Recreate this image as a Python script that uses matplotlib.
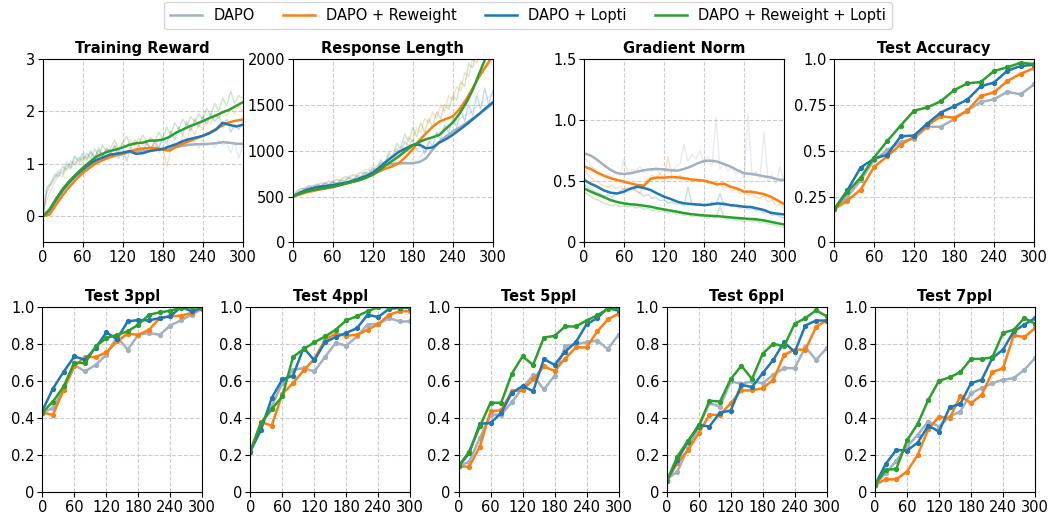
import numpy as np
import matplotlib
matplotlib.use("Agg")
import matplotlib.pyplot as plt

W, H = 1050, 521

METHODS = ["DAPO", "DAPO + Reweight", "DAPO + Lopti", "DAPO + Reweight + Lopti"]
COLORS = ["#a3b0c2", "#ff7f0e", "#1f77b4", "#2ca02c"]

STEP_RAW = list(range(0, 301, 6))      # raw logging steps (faint traces)
STEP_SMOOTH = list(range(0, 301, 10))  # smoothed curves
STEP_EVAL = list(range(0, 301, 20))    # evaluation checkpoints
XTICKS = [0, 60, 120, 180, 240, 300]

# ---------------------------------------------------------------------------
# Training reward
# ---------------------------------------------------------------------------
reward_raw_dapo = [0.0, 0.5, 0.65, 0.75, 0.9, 0.85, 1.05, 0.95, 1.12, 1.02, 1.15, 1.08, 1.22, 1.1, 1.25, 1.15,
                   1.28, 1.18, 1.3, 1.2, 1.3, 1.22, 1.32, 1.25, 1.35, 1.25, 1.38, 1.28, 1.4, 1.3, 1.42, 1.32,
                   1.45, 1.35, 1.42, 1.32, 1.45, 1.35, 1.42, 1.3, 1.45, 1.35, 1.4, 1.3, 1.45, 1.35, 1.4, 1.2,
                   1.42, 1.1, 1.35]
reward_raw_rw = [0.0, 0.3, 0.5, 0.65, 0.8, 0.75, 0.95, 0.9, 1.05, 0.98, 1.12, 1.05, 1.2, 1.1, 1.25, 1.15,
                 1.3, 1.2, 1.35, 1.22, 1.4, 1.3, 1.45, 1.32, 1.5, 1.35, 1.42, 1.3, 1.4, 1.2, 1.35, 0.95,
                 1.25, 1.4, 1.3, 1.55, 1.45, 1.7, 1.55, 1.75, 1.65, 1.85, 1.75, 1.95, 1.85, 2.0, 1.9, 2.05,
                 1.95, 2.1, 2.0]
reward_raw_lopti = [0.0, 0.45, 0.6, 0.72, 0.85, 0.8, 1.0, 0.92, 1.15, 1.05, 1.2, 1.1, 1.25, 1.12, 1.3, 1.15,
                    1.28, 1.2, 1.35, 1.1, 1.25, 1.05, 1.3, 1.18, 1.35, 1.22, 1.4, 1.25, 1.45, 1.3, 1.5, 1.38,
                    1.62, 1.45, 1.7, 1.55, 1.8, 1.62, 1.85, 1.7, 1.9, 1.75, 1.95, 1.8, 1.92, 1.7, 1.85, 1.6,
                    1.75, 1.65, 1.8]
reward_raw_both = [-0.05, 0.55, 0.62, 0.8, 0.75, 0.95, 0.88, 1.05, 0.98, 1.12, 1.05, 1.2, 1.1, 1.28, 1.15, 1.35,
                   1.22, 1.3, 1.45, 1.25, 1.4, 1.52, 1.32, 1.45, 1.38, 1.55, 1.4, 1.5, 1.42, 1.6, 1.48, 1.7,
                   1.55, 1.78, 1.65, 1.85, 1.72, 1.9, 1.8, 1.95, 1.85, 2.05, 1.92, 2.15, 2.0, 2.25, 2.1, 2.38,
                   2.15, 2.3, 2.25]
reward_dapo = [0.0, 0.1, 0.29, 0.48, 0.64, 0.77, 0.87, 0.96, 1.04, 1.1, 1.14, 1.17, 1.19, 1.22, 1.24, 1.25,
               1.25, 1.27, 1.28, 1.3, 1.32, 1.34, 1.36, 1.37, 1.37, 1.38, 1.39, 1.41, 1.4, 1.38, 1.38]
reward_rw = [0.0, 0.03, 0.22, 0.4, 0.56, 0.7, 0.82, 0.92, 1.01, 1.07, 1.12, 1.16, 1.19, 1.23, 1.27, 1.29,
             1.3, 1.3, 1.27, 1.25, 1.32, 1.38, 1.43, 1.48, 1.53, 1.59, 1.66, 1.73, 1.79, 1.82, 1.84]
reward_lopti = [0.0, 0.12, 0.32, 0.5, 0.65, 0.78, 0.89, 0.99, 1.07, 1.12, 1.17, 1.19, 1.21, 1.24, 1.19, 1.2,
                1.24, 1.26, 1.28, 1.33, 1.37, 1.43, 1.47, 1.5, 1.53, 1.58, 1.65, 1.78, 1.74, 1.71, 1.74]
reward_both = [0.0, 0.12, 0.33, 0.52, 0.67, 0.8, 0.92, 1.03, 1.13, 1.19, 1.24, 1.27, 1.31, 1.36, 1.39, 1.4,
               1.44, 1.44, 1.46, 1.51, 1.59, 1.65, 1.71, 1.76, 1.81, 1.87, 1.92, 1.98, 2.03, 2.1, 2.17]

# ---------------------------------------------------------------------------
# Response length
# ---------------------------------------------------------------------------
length_raw_dapo = [500, 550, 580, 590, 610, 620, 630, 640, 650, 660, 670, 680, 690, 700, 720, 730,
                   750, 760, 790, 800, 840, 830, 870, 860, 880, 850, 870, 840, 880, 860, 900, 880,
                   940, 1000, 1080, 1150, 1180, 1220, 1250, 1280, 1300, 1320, 1350, 1380, 1400, 1430, 1480, 1500,
                   1550, 1580, 1620]
length_raw_rw = [500, 540, 570, 600, 590, 620, 610, 650, 630, 670, 650, 690, 670, 720, 700, 740,
                 720, 760, 740, 790, 770, 830, 800, 880, 850, 950, 920, 1050, 1000, 1150, 1100, 1250,
                 1200, 1350, 1300, 1420, 1350, 1500, 1420, 1600, 1550, 1700, 1650, 1850, 1800, 2000, 1950, 2100,
                 2050, 2200, 2150]
length_raw_lopti = [510, 560, 590, 580, 620, 600, 640, 615, 650, 630, 660, 640, 670, 660, 700, 680,
                    720, 700, 760, 730, 800, 780, 870, 820, 950, 900, 1020, 960, 1100, 1050, 1120, 1000,
                    1080, 960, 1100, 1050, 1200, 1120, 1280, 1200, 1350, 1250, 1450, 1320, 1500, 1380, 1600, 1450,
                    1680, 1500, 1650]
length_raw_both = [500, 530, 560, 580, 600, 590, 620, 610, 640, 630, 660, 650, 680, 670, 710, 690,
                   730, 720, 770, 750, 820, 790, 900, 850, 980, 930, 1080, 1020, 1180, 1100, 1250, 1150,
                   1300, 1200, 1350, 1250, 1420, 1350, 1500, 1450, 1600, 1550, 1750, 1700, 1950, 1900, 2100, 2050,
                   2200, 2150, 2250]
length_dapo = [500, 535, 562, 582, 598, 612, 625, 638, 651, 670, 691, 720, 753, 800, 844, 855,
               862, 862, 862, 875, 916, 1010, 1098, 1155, 1207, 1250, 1298, 1350, 1400, 1455, 1509]
length_rw = [500, 522, 544, 560, 576, 590, 605, 622, 642, 660, 678, 708, 745, 775, 807, 830,
             869, 935, 1015, 1110, 1189, 1260, 1316, 1345, 1371, 1450, 1553, 1680, 1807, 1920, 2030]
length_lopti = [500, 540, 570, 592, 607, 615, 625, 638, 651, 672, 698, 725, 760, 815, 880, 935,
                989, 1025, 1062, 1065, 1025, 1035, 1087, 1125, 1171, 1225, 1280, 1340, 1400, 1465, 1524]
length_both = [500, 528, 555, 570, 584, 594, 605, 622, 642, 660, 678, 705, 735, 785, 844, 890,
               942, 1000, 1055, 1095, 1124, 1145, 1171, 1240, 1305, 1400, 1516, 1660, 1844, 2018, 2200]

# ---------------------------------------------------------------------------
# Gradient norm
# ---------------------------------------------------------------------------
gnorm_raw_dapo = [0.7, 0.66, 0.62, 0.58, 0.56, 0.54, 0.55, 0.53, 0.58, 0.55, 0.68, 0.56, 0.6, 0.58, 0.62, 0.57,
                  0.6, 0.58, 0.62, 0.56, 0.6, 0.57, 0.58, 0.62, 0.64, 0.8, 0.66, 0.72, 0.68, 0.75, 0.65, 0.7,
                  0.62, 1.02, 0.6, 0.65, 0.58, 0.62, 0.55, 0.6, 0.52, 1.05, 0.55, 0.58, 0.52, 0.9, 0.5, 0.55,
                  0.48, 0.62, 0.5]
gnorm_raw_rw = [0.6, 0.55, 0.52, 0.5, 0.48, 0.46, 0.45, 0.47, 0.44, 0.46, 0.43, 0.45, 0.42, 0.44, 0.4, 0.48,
                0.52, 0.55, 0.53, 0.56, 0.52, 0.7, 0.54, 0.52, 0.55, 0.51, 0.53, 0.5, 0.52, 0.49, 0.51, 0.48,
                0.5, 0.46, 0.48, 0.44, 0.46, 0.42, 0.44, 0.4, 0.42, 0.38, 0.4, 0.37, 0.36, 0.38, 0.33, 0.35,
                0.3, 0.32, 0.28]
gnorm_raw_lopti = [0.48, 0.45, 0.43, 0.41, 0.4, 0.38, 0.39, 0.37, 0.4, 0.42, 0.44, 0.43, 0.45, 0.42, 0.4, 0.38,
                   0.39, 0.36, 0.37, 0.34, 0.35, 0.32, 0.33, 0.31, 0.32, 0.3, 0.45, 0.31, 0.3, 0.32, 0.3, 0.31,
                   0.33, 0.31, 0.4, 0.3, 0.31, 0.29, 0.3, 0.28, 0.29, 0.27, 0.28, 0.26, 0.27, 0.24, 0.25, 0.22,
                   0.23, 0.21, 0.2]
gnorm_raw_both = [0.41, 0.39, 0.37, 0.35, 0.34, 0.32, 0.31, 0.3, 0.31, 0.29, 0.3, 0.29, 0.3, 0.28, 0.29, 0.27,
                  0.28, 0.26, 0.27, 0.25, 0.26, 0.24, 0.25, 0.23, 0.24, 0.22, 0.23, 0.21, 0.22, 0.21, 0.22, 0.2,
                  0.21, 0.2, 0.3, 0.2, 0.19, 0.2, 0.18, 0.19, 0.17, 0.18, 0.17, 0.18, 0.16, 0.17, 0.15, 0.15,
                  0.14, 0.13, 0.12]
gnorm_dapo = [0.728, 0.71, 0.674, 0.63, 0.592, 0.565, 0.559, 0.565, 0.578, 0.59, 0.597, 0.6, 0.597, 0.59, 0.586,
              0.6, 0.619, 0.645, 0.665, 0.668, 0.66, 0.64, 0.619, 0.59, 0.565, 0.56, 0.551, 0.54, 0.532, 0.515,
              0.51]
gnorm_rw = [0.62, 0.6, 0.57, 0.545, 0.524, 0.51, 0.496, 0.482, 0.469, 0.464, 0.52, 0.53, 0.529, 0.535, 0.532,
            0.525, 0.515, 0.51, 0.505, 0.49, 0.475, 0.48, 0.455, 0.44, 0.415, 0.415, 0.406, 0.395, 0.374, 0.345,
            0.314]
gnorm_lopti = [0.51, 0.48, 0.455, 0.425, 0.406, 0.4, 0.415, 0.44, 0.455, 0.445, 0.428, 0.4, 0.374, 0.355, 0.333,
               0.32, 0.314, 0.31, 0.305, 0.31, 0.319, 0.315, 0.305, 0.3, 0.292, 0.29, 0.278, 0.265, 0.243, 0.235,
               0.229]
gnorm_both = [0.442, 0.415, 0.393, 0.37, 0.346, 0.33, 0.319, 0.312, 0.308, 0.3, 0.292, 0.28, 0.27, 0.26, 0.251,
              0.24, 0.232, 0.226, 0.221, 0.218, 0.215, 0.21, 0.205, 0.2, 0.196, 0.192, 0.188, 0.18, 0.169, 0.158,
              0.147]

# ---------------------------------------------------------------------------
# Evaluation accuracies (every 20 steps)
# ---------------------------------------------------------------------------
acc_dapo = [0.18, 0.248, 0.339, 0.447, 0.502, 0.547, 0.565, 0.629, 0.63, 0.67, 0.719, 0.764, 0.779, 0.82, 0.806, 0.86]
acc_rw = [0.18, 0.228, 0.288, 0.411, 0.469, 0.533, 0.574, 0.636, 0.688, 0.678, 0.717, 0.797, 0.817, 0.879, 0.918, 0.949]
acc_lopti = [0.18, 0.284, 0.408, 0.456, 0.478, 0.578, 0.582, 0.647, 0.707, 0.741, 0.777, 0.85, 0.87, 0.935, 0.96, 0.967]
acc_both = [0.18, 0.275, 0.353, 0.462, 0.553, 0.636, 0.717, 0.735, 0.768, 0.828, 0.866, 0.873, 0.933, 0.953, 0.978, 0.971]

ppl3_dapo = [0.43, 0.455, 0.557, 0.688, 0.652, 0.688, 0.742, 0.84, 0.77, 0.85, 0.86, 0.85, 0.9, 0.928, 0.959, 0.99]
ppl3_rw = [0.43, 0.418, 0.553, 0.68, 0.73, 0.73, 0.755, 0.815, 0.856, 0.85, 0.877, 0.94, 0.95, 0.953, 0.968, 0.995]
ppl3_lopti = [0.44, 0.56, 0.65, 0.733, 0.715, 0.78, 0.863, 0.827, 0.922, 0.93, 0.928, 0.94, 0.95, 1.0, 0.977, 0.996]
ppl3_both = [0.43, 0.49, 0.571, 0.7, 0.697, 0.787, 0.832, 0.85, 0.868, 0.905, 0.958, 0.971, 0.98, 0.995, 1.0, 1.0]

ppl4_dapo = [0.22, 0.37, 0.463, 0.589, 0.661, 0.67, 0.652, 0.73, 0.806, 0.791, 0.841, 0.905, 0.91, 0.94, 0.922, 0.922]
ppl4_rw = [0.22, 0.38, 0.359, 0.531, 0.589, 0.658, 0.72, 0.823, 0.856, 0.845, 0.85, 0.877, 0.908, 0.958, 0.977, 0.977]
ppl4_lopti = [0.22, 0.337, 0.508, 0.61, 0.629, 0.78, 0.712, 0.809, 0.838, 0.86, 0.886, 0.958, 0.946, 0.99, 0.995, 0.995]
ppl4_both = [0.22, 0.373, 0.449, 0.517, 0.73, 0.773, 0.809, 0.841, 0.877, 0.928, 0.95, 0.977, 1.0, 1.0, 1.0, 1.0]

ppl5_dapo = [0.14, 0.165, 0.292, 0.419, 0.419, 0.486, 0.564, 0.632, 0.555, 0.628, 0.791, 0.799, 0.81, 0.819, 0.773, 0.85]
ppl5_rw = [0.14, 0.138, 0.247, 0.437, 0.443, 0.546, 0.55, 0.61, 0.679, 0.655, 0.722, 0.782, 0.782, 0.868, 0.933, 0.964]
ppl5_lopti = [0.14, 0.21, 0.37, 0.374, 0.428, 0.537, 0.573, 0.546, 0.719, 0.688, 0.759, 0.81, 0.906, 0.94, 0.995, 0.98]
ppl5_both = [0.14, 0.22, 0.356, 0.483, 0.483, 0.64, 0.733, 0.688, 0.835, 0.844, 0.895, 0.895, 0.927, 0.955, 0.99, 0.99]

ppl6_dapo = [0.07, 0.112, 0.238, 0.355, 0.481, 0.463, 0.598, 0.586, 0.598, 0.589, 0.634, 0.67, 0.67, 0.784, 0.715, 0.778]
ppl6_rw = [0.06, 0.157, 0.229, 0.319, 0.418, 0.418, 0.481, 0.55, 0.55, 0.562, 0.607, 0.742, 0.77, 0.77, 0.892, 0.93]
ppl6_lopti = [0.06, 0.175, 0.274, 0.364, 0.355, 0.43, 0.441, 0.58, 0.568, 0.643, 0.715, 0.81, 0.757, 0.9, 0.927, 0.927]
ppl6_both = [0.06, 0.193, 0.279, 0.355, 0.494, 0.49, 0.611, 0.683, 0.611, 0.748, 0.802, 0.787, 0.91, 0.94, 0.982, 0.95]

ppl7_dapo = [0.04, 0.103, 0.171, 0.247, 0.31, 0.382, 0.355, 0.409, 0.436, 0.535, 0.562, 0.589, 0.607, 0.616, 0.661, 0.724]
ppl7_rw = [0.04, 0.07, 0.07, 0.112, 0.202, 0.341, 0.409, 0.4, 0.52, 0.481, 0.526, 0.649, 0.67, 0.847, 0.838, 0.886]
ppl7_lopti = [0.04, 0.153, 0.229, 0.225, 0.268, 0.359, 0.328, 0.459, 0.477, 0.589, 0.607, 0.724, 0.77, 0.868, 0.905, 0.94]
ppl7_both = [0.04, 0.121, 0.126, 0.28, 0.369, 0.499, 0.602, 0.62, 0.649, 0.72, 0.72, 0.728, 0.86, 0.877, 0.94, 0.91]

# panel titles / y-axis setups
TOP_TITLES = ["Training Reward", "Response Length", "Gradient Norm", "Test Accuracy"]
TOP_YLIMS = [(-0.5, 3), (0, 2000), (0, 1.5), (0, 1.0)]
TOP_YTICKS = [[0, 1, 2, 3], [0, 500, 1000, 1500, 2000], [0, 0.5, 1.0, 1.5], [0, 0.25, 0.5, 0.75, 1.0]]
TOP_YLABELS = [["0", "1", "2", "3"], ["0", "500", "1000", "1500", "2000"],
               ["0", "0.5", "1.0", "1.5"], ["0", "0.25", "0.5", "0.75", "1.0"]]
BOT_TITLES = ["Test 3ppl", "Test 4ppl", "Test 5ppl", "Test 6ppl", "Test 7ppl"]
BOT_YTICKS = [0, 0.2, 0.4, 0.6, 0.8, 1.0]
BOT_YLABELS = ["0", "0.2", "0.4", "0.6", "0.8", "1.0"]

plt.rcParams["font.family"] = "DejaVu Sans"


def px_axes(fig, left, top, width, height):
    return fig.add_axes([left / W, 1 - (top + height) / H, width / W, height / H])


def style(ax, title, ylim, yticks, ylabels):
    ax.set_xlim(0, 300)
    ax.set_ylim(*ylim)
    ax.set_xticks(XTICKS)
    ax.set_yticks(yticks)
    ax.set_yticklabels(ylabels)
    ax.tick_params(labelsize=10.5, length=3.5, width=0.8, pad=2)
    ax.grid(True, ls="--", color="#cccccc", lw=0.8)
    ax.set_axisbelow(True)
    ax.set_title(title, fontsize=10.5, weight="bold", pad=4)
    for s in ax.spines.values():
        s.set_linewidth(0.8)


def draw_train(ax, raws, smooths):
    for raw, c in zip(raws, COLORS):
        ax.plot(STEP_RAW, raw, color=c, lw=1.0, alpha=0.26)
    for sm, c, lab in zip(smooths, COLORS, METHODS):
        ax.plot(STEP_SMOOTH, sm, color=c, lw=1.8, label=lab)


def draw_eval(ax, series):
    for vals, c in zip(series, COLORS):
        ax.plot(STEP_EVAL, vals, color=c, lw=1.8, marker="o", ms=2.8)


fig = plt.figure(figsize=(W / 100, H / 100), dpi=100)

top_lefts = [42.7, 292.7, 584, 834]
top_axes = [px_axes(fig, l, 58.7, 200, 183.8) for l in top_lefts]
bot_lefts = [42.3, 250.3, 458.5, 666.7, 875]
bot_axes = [px_axes(fig, l, 307, 160, 185.3) for l in bot_lefts]

draw_train(top_axes[0], [reward_raw_dapo, reward_raw_rw, reward_raw_lopti, reward_raw_both],
           [reward_dapo, reward_rw, reward_lopti, reward_both])
draw_train(top_axes[1], [length_raw_dapo, length_raw_rw, length_raw_lopti, length_raw_both],
           [length_dapo, length_rw, length_lopti, length_both])
draw_train(top_axes[2], [gnorm_raw_dapo, gnorm_raw_rw, gnorm_raw_lopti, gnorm_raw_both],
           [gnorm_dapo, gnorm_rw, gnorm_lopti, gnorm_both])
draw_eval(top_axes[3], [acc_dapo, acc_rw, acc_lopti, acc_both])

for ax, t, yl, yt, ylab in zip(top_axes, TOP_TITLES, TOP_YLIMS, TOP_YTICKS, TOP_YLABELS):
    style(ax, t, yl, yt, ylab)

bot_series = [
    [ppl3_dapo, ppl3_rw, ppl3_lopti, ppl3_both],
    [ppl4_dapo, ppl4_rw, ppl4_lopti, ppl4_both],
    [ppl5_dapo, ppl5_rw, ppl5_lopti, ppl5_both],
    [ppl6_dapo, ppl6_rw, ppl6_lopti, ppl6_both],
    [ppl7_dapo, ppl7_rw, ppl7_lopti, ppl7_both],
]
for ax, t, ser in zip(bot_axes, BOT_TITLES, bot_series):
    draw_eval(ax, ser)
    style(ax, t, (0, 1.0), BOT_YTICKS, BOT_YLABELS)

handles, labels = top_axes[0].get_legend_handles_labels()
fig.legend(handles, labels, loc="upper center", bbox_to_anchor=(528 / W, 1.0), ncol=4,
           fontsize=10.5, frameon=True, handlelength=2.2, columnspacing=1.9, borderpad=0.4,
           borderaxespad=0.15)

fig.savefig("out.png", dpi=100)
